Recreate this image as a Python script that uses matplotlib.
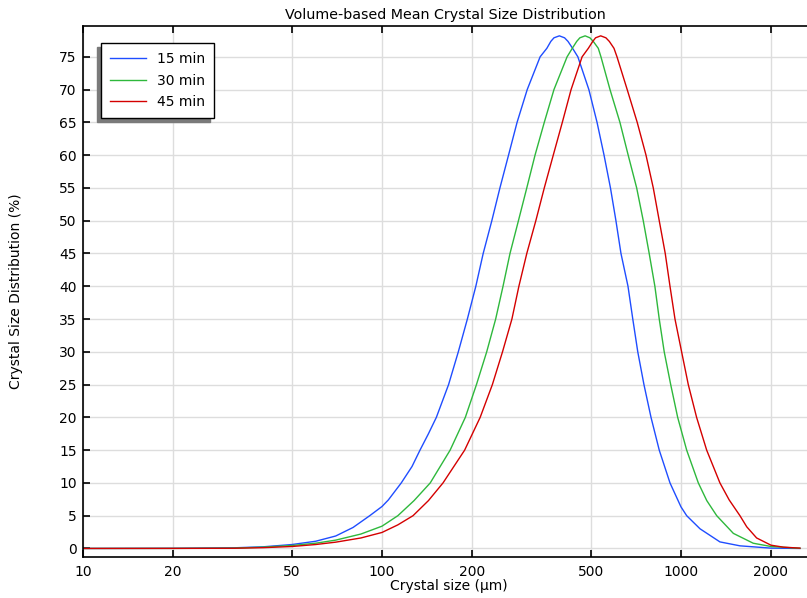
import matplotlib
matplotlib.use("Agg")
import matplotlib.pyplot as plt
from matplotlib.ticker import FixedLocator, FixedFormatter, NullLocator

plt.rcParams["font.family"] = ["DejaVu Sans"]
plt.rcParams["font.size"] = 10

# crystal size (um) and distribution (%)
blue_x = [10, 20, 32, 40, 50, 60, 70, 80, 91, 100, 105, 116, 126, 134, 143, 152,
          167, 180, 193, 206, 218, 233, 248, 265, 283, 306, 338, 356, 367, 376, 392,
          408, 419, 434, 452, 492, 524, 553, 581, 606, 630, 665, 690, 717, 752, 794,
          846, 919, 1000, 1045, 1158, 1350, 1575, 2000, 2500]
blue_y = [0, 0.02, 0.1, 0.25, 0.6, 1.1, 1.9, 3.2, 5, 6.4, 7.4, 10, 12.5, 15, 17.5, 20,
          25, 30, 35, 40, 45, 50, 55, 60, 65, 70, 75, 76.3, 77.35, 77.9, 78.2,
          77.9, 77.35, 76.3, 75, 70, 65, 60, 55, 50, 45, 40, 35, 30, 25, 20,
          15, 10, 6.35, 5, 3.0, 1.0, 0.4, 0.05, 0]

green_x = [10, 20, 32, 40, 50, 60, 70, 85, 100, 113, 128, 145, 169, 190, 207, 224,
           240, 254, 268, 286, 305, 325, 349, 376, 416, 433, 448, 459, 478, 496, 509,
           529, 540, 579, 625, 666, 711, 748, 783, 818, 846, 879, 924, 975, 1045,
           1143, 1220, 1317, 1497, 1744, 2000, 2500]
green_y = [0, 0.01, 0.05, 0.2, 0.45, 0.8, 1.27, 2.2, 3.4, 5, 7.3, 10, 15, 20, 25, 30,
           35, 40, 45, 50, 55, 60, 65, 70, 75, 76.3, 77.35, 77.9, 78.2, 77.9, 77.35,
           76.3, 75, 70, 65, 60, 55, 50, 45, 40, 35, 30, 25, 20, 15,
           10, 7.3, 5, 2.3, 0.8, 0.3, 0.02]

red_x = [10, 20, 32, 40, 50, 60, 70, 85, 100, 113, 127, 143, 160, 189, 213, 234,
         253, 272, 287, 305, 327, 349, 374, 401, 429, 467, 490, 507, 518, 539, 561,
         576, 597, 611, 661, 714, 764, 808, 846, 886, 919, 955, 1005, 1058, 1128,
         1219, 1350, 1450, 1575, 1660, 1791, 2000, 2200, 2500]
red_y = [0, 0.01, 0.03, 0.12, 0.3, 0.6, 0.96, 1.6, 2.44, 3.6, 5, 7.3, 10, 15, 20, 25,
         30, 35, 40, 45, 50, 55, 60, 65, 70, 75, 76.3, 77.35, 77.9, 78.2, 77.9,
         77.35, 76.3, 75, 70, 65, 60, 55, 50, 45, 40, 35, 30, 25, 20,
         15, 10, 7.4, 5, 3.3, 1.6, 0.5, 0.2, 0.05]

x_ticks = [10, 20, 50, 100, 200, 500, 1000, 2000]
x_tick_labels = ["10", "20", "50", "100", "200", "500", "1000", "2000"]
y_ticks = list(range(0, 80, 5))

fig = plt.figure(figsize=(8.07, 5.98), dpi=100)
ax = fig.add_axes([0.1029, 0.0686, 0.8971, 0.8879])

ax.plot(blue_x, blue_y, color="#1f4dff", lw=1.0, label="15 min")
ax.plot(green_x, green_y, color="#2eb83c", lw=1.0, label="30 min")
ax.plot(red_x, red_y, color="#d40000", lw=1.0, label="45 min")

ax.set_xscale("log")
ax.set_xlim(10, 2640)
ax.set_ylim(-1.3, 79.7)
ax.xaxis.set_major_locator(FixedLocator(x_ticks))
ax.xaxis.set_major_formatter(FixedFormatter(x_tick_labels))
ax.xaxis.set_minor_locator(NullLocator())
ax.set_yticks(y_ticks)

ax.grid(True, color="#dddddd", lw=1.0)
ax.set_axisbelow(True)
ax.spines["right"].set_visible(False)
for s in ["left", "top", "bottom"]:
    ax.spines[s].set_linewidth(1.2)

ax.tick_params(axis="x", direction="in", top=True, length=5, width=1.2, pad=6)
ax.tick_params(axis="y", direction="in", length=5, width=1.2, pad=4.5)

ax.set_title("Volume-based Mean Crystal Size Distribution", fontsize=10.3, pad=5)
ax.set_xlabel("Crystal size (µm)")
ax.set_ylabel("Crystal Size Distribution (%)")
ax.xaxis.set_label_coords(0.505, -0.042)
ax.yaxis.set_label_coords(-0.083, 0.5)

leg = ax.legend(loc="upper left", bbox_to_anchor=(0.0249, 0.9674), borderaxespad=0,
                fancybox=False, edgecolor="black", framealpha=1,
                shadow={"ox": -3, "oy": -3, "color": "#7a7a7a", "alpha": 1},
                handlelength=2.6, borderpad=0.65, labelspacing=0.52)
leg.get_frame().set_linewidth(1.0)

fig.savefig("out.png", dpi=100)
